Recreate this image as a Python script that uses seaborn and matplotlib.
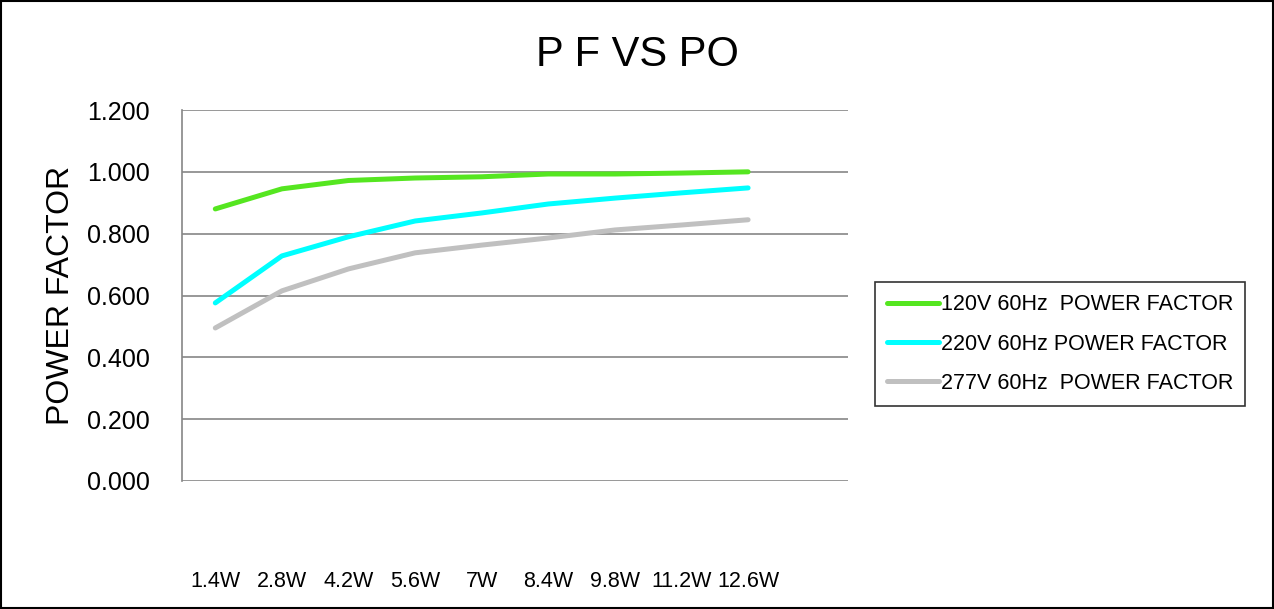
import pandas as pd
import matplotlib.pyplot as plt
import seaborn as sns

# data
power_out = ['1.4W', '2.8W', '4.2W', '5.6W', '7W', '8.4W', '9.8W', '11.2W', '12.6W']
pf_120v = [0.880, 0.945, 0.972, 0.980, 0.984, 0.993, 0.993, 0.996, 1.000]
pf_220v = [0.576, 0.728, 0.790, 0.841, 0.867, 0.896, 0.915, 0.932, 0.948]
pf_277v = [0.495, 0.615, 0.686, 0.738, 0.763, 0.786, 0.812, 0.828, 0.845]
series_names = ['120V 60Hz  POWER FACTOR', '220V 60Hz POWER FACTOR', '277V 60Hz  POWER FACTOR']
y_ticks = [0.0, 0.2, 0.4, 0.6, 0.8, 1.0, 1.2]

df = pd.DataFrame({
    'PO': power_out * 3,
    'PF': pf_120v + pf_220v + pf_277v,
    'series': [s for s in series_names for _ in power_out],
})

sns.set_style('white')
plt.rcParams['font.family'] = ['Liberation Sans', 'DejaVu Sans']
plt.rcParams['text.color'] = 'black'
plt.rcParams['xtick.color'] = 'black'
plt.rcParams['ytick.color'] = 'black'
plt.rcParams['axes.labelcolor'] = 'black'

fig = plt.figure(figsize=(12.74, 6.09), dpi=100)
ax = fig.add_axes([182 / 1274, 1 - 481 / 609, 666 / 1274, 371 / 609])

palette = {series_names[0]: '#55E620', series_names[1]: '#00FFFF', series_names[2]: '#C0C0C0'}
sns.lineplot(data=df, x='PO', y='PF', hue='series', palette=palette, sort=False,
             linewidth=3.6, ax=ax, legend=True)

ax.set_xlim(-0.5, 9.5)
ax.set_ylim(0, 1.2)
ax.set_yticks(y_ticks)
ax.set_yticklabels([f'{v:.3f}' for v in y_ticks], fontsize=18)
ax.set_xticks(range(len(power_out)))
ax.set_xticklabels(power_out, fontsize=15.5)
ax.tick_params(axis='x', length=0, pad=65)
ax.tick_params(axis='y', length=0, pad=23)
ax.grid(axis='y', color='#868686', linewidth=1.2)
for side in ['top', 'right', 'bottom']:
    ax.spines[side].set_visible(False)
ax.spines['left'].set_color('#868686')
ax.spines['left'].set_linewidth(1.2)
ax.set_xlabel('')
ax.set_ylabel('POWER FACTOR', fontsize=23, labelpad=8)

leg = ax.legend(loc='center left', bbox_to_anchor=(875 / 1274, 1 - 344 / 609),
                bbox_transform=fig.transFigure, fontsize=15.5, frameon=True,
                fancybox=False, handlelength=2.4, handletextpad=0.1,
                borderpad=0.55, labelspacing=0.85, borderaxespad=0)
leg.get_frame().set_edgecolor('black')
leg.get_frame().set_linewidth(1.2)
for line in leg.get_lines():
    line.set_linewidth(3.6)

fig.text(0.5, 1 - 55 / 609, 'P F VS PO', fontsize=30, ha='center', va='center')

# outer frame of the chart
fig.patches.append(plt.Rectangle((0.001, 0.002), 0.998, 0.996, transform=fig.transFigure,
                                 fill=False, edgecolor='black', linewidth=1.5))

fig.savefig('out.png', dpi=100)
